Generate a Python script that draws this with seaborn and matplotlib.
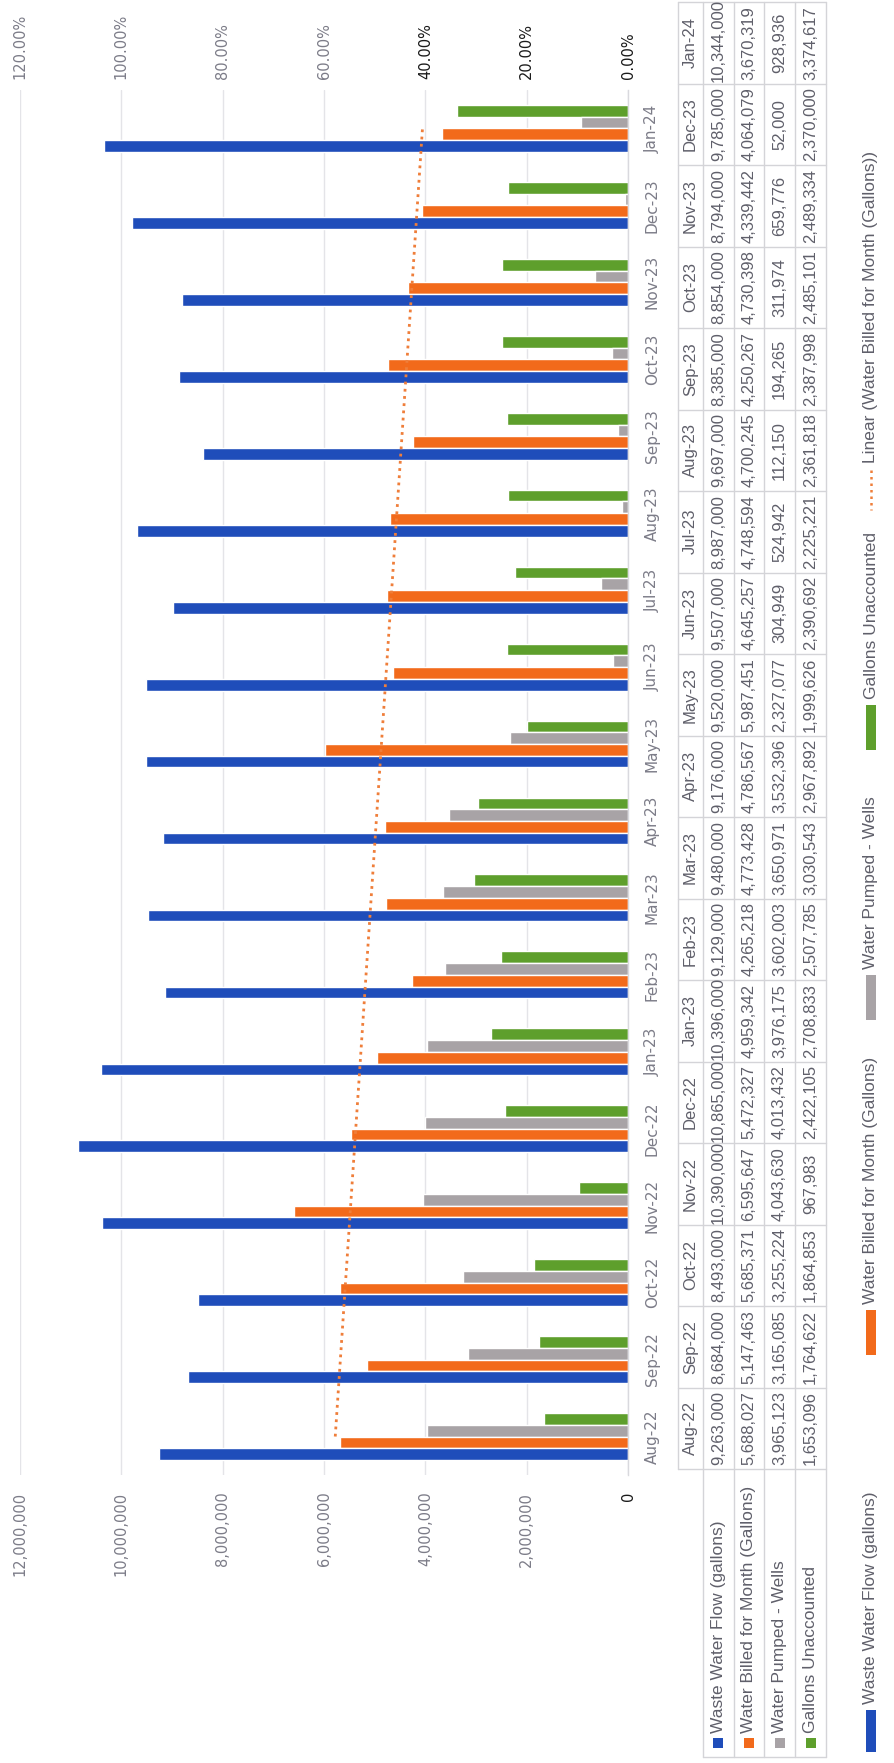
import numpy as np
import pandas as pd
import matplotlib
matplotlib.use("Agg")
import matplotlib.pyplot as plt
import seaborn as sns
from matplotlib.patches import Rectangle
from matplotlib.lines import Line2D
from matplotlib.transforms import Bbox, TransformedBbox

# ---- data -------------------------------------------------------------
months = ["Aug-22", "Sep-22", "Oct-22", "Nov-22", "Dec-22", "Jan-23",
          "Feb-23", "Mar-23", "Apr-23", "May-23", "Jun-23", "Jul-23",
          "Aug-23", "Sep-23", "Oct-23", "Nov-23", "Dec-23", "Jan-24"]

waste_water_flow = [9263000, 8684000, 8493000, 10390000, 10865000, 10396000,
                    9129000, 9480000, 9176000, 9520000, 9507000, 8987000,
                    9697000, 8385000, 8854000, 8794000, 9785000, 10344000]
water_billed = [5688027, 5147463, 5685371, 6595647, 5472327, 4959342,
                4265218, 4773428, 4786567, 5987451, 4645257, 4748594,
                4700245, 4250267, 4730398, 4339442, 4064079, 3670319]
water_pumped_wells = [3965123, 3165085, 3255224, 4043630, 4013432, 3976175,
                      3602003, 3650971, 3532396, 2327077, 304949, 524942,
                      112150, 194265, 311974, 659776, 52000, 928936]
gallons_unaccounted = [1653096, 1764622, 1864853, 967983, 2422105, 2708833,
                       2507785, 3030543, 2967892, 1999626, 2390692, 2225221,
                       2361818, 2387998, 2485101, 2489334, 2370000, 3374617]

series_names = ["Waste Water Flow (gallons)", "Water Billed for Month (Gallons)",
                "Water Pumped - Wells", "Gallons Unaccounted"]
series_values = [waste_water_flow, water_billed, water_pumped_wells, gallons_unaccounted]
series_colors = ["#1F4DBA", "#F26A1B", "#A8A3A6", "#5E9F2C"]
trend_name = "Linear (Water Billed for Month (Gallons))"

value_ticks = [0, 2000000, 4000000, 6000000, 8000000, 10000000, 12000000]
percent_ticks = [0.0, 0.2, 0.4, 0.6, 0.8, 1.0, 1.2]

# ---- page geometry (pixels) -------------------------------------------
W, H = 894, 1763
sns.set_theme(style="white")
plt.rcParams["font.family"] = ["DejaVu Sans"]

fig = plt.figure(figsize=(W / 100, H / 100), dpi=100)
fig.patch.set_facecolor("white")


def box(x0, y0, x1, y1):
    return [x0 / W, 1 - y1 / H, (x1 - x0) / W, (y1 - y0) / H]


TEXT_GRAY = "#5F5F6A"
TICK_GRAY = "#7C7C88"
TREND_ORANGE = "#EF7E3A"

# ---- bars ---------------------------------------------------------------
ax = fig.add_axes(box(20, 90, 628, 1475))
df = pd.DataFrame({
    "Month": np.tile(months, len(series_names)),
    "Series": np.repeat(series_names, len(months)),
    "Gallons": np.concatenate([np.asarray(v, dtype=float) for v in series_values]),
})
order = months[::-1]            # newest month at the top
hue_order = series_names[::-1]  # flow bar sits lowest in each group
sns.barplot(data=df, y="Month", x="Gallons", hue="Series", order=order,
            hue_order=hue_order, palette=dict(zip(series_names, series_colors)),
            orient="h", width=0.61, saturation=1, errorbar=None,
            legend=False, ax=ax)

# linear trend of billed water
idx = np.arange(1, len(months) + 1)
coef = np.polyfit(idx, water_billed, 1)
trend = np.polyval(coef, idx)
ypos = [order.index(m) for m in months]
ax.plot(trend, ypos, color=TREND_ORANGE, lw=2.0, ls=(0, (1, 1.6)), zorder=6)

ax.set_xlim(12000000, 0)
ax.set_ylim(len(months) - 0.5, -0.5)
ax.set_xlabel("")
ax.set_ylabel("")
ax.set_xticks(value_ticks)
ax.set_xticklabels([f"{v:,.0f}" for v in value_ticks], rotation=90)
ax.tick_params(axis="x", length=0, pad=12, labelsize=10.5, labelcolor=TICK_GRAY)
for lab in ax.get_xticklabels():
    if lab.get_text() == "0":
        lab.set_color("#1A1A1A")
ax.grid(axis="x", color="#E4E4E8", lw=1.0)
ax.grid(axis="y", visible=False)
ax.set_axisbelow(True)
for side in ["top", "bottom", "left"]:
    ax.spines[side].set_visible(False)
ax.spines["right"].set_color("#D9D9DE")
ax.spines["right"].set_linewidth(1.0)

ax.yaxis.tick_right()
ax.set_yticks(range(len(order)))
ax.set_yticklabels(order, rotation=90, va="center")
ax.tick_params(axis="y", length=0, pad=12, labelsize=11, labelcolor=TICK_GRAY)

# secondary percentage scale
ax2 = ax.twiny()
ax2.set_xlim(1.2, 0)
ax2.set_xticks(percent_ticks)
ax2.set_xticklabels([f"{p * 100:.2f}%" for p in percent_ticks], rotation=90)
ax2.tick_params(axis="x", length=0, pad=8, labelsize=10.5, labelcolor=TICK_GRAY)
for lab, p in zip(ax2.get_xticklabels(), percent_ticks):
    if p <= 0.4 + 1e-9:
        lab.set_color("#1A1A1A")
ax2.grid(False)
for s in ax2.spines.values():
    s.set_visible(False)

# ---- data table and legend (pixel overlay) -------------------------------
ov = fig.add_axes([0, 0, 1, 1], facecolor="none")
ov.set_xlim(0, W)
ov.set_ylim(H, 0)
ov.axis("off")
renderer = fig.canvas.get_renderer()

line_c = "#D4D4D8"
hdr_x0, hdr_x1 = 678, 703
row_edges = [703, 733.5, 764, 795, 826]
col_top, col_w = 2, 81.5
n = len(months)
tab_bottom = 1757
hdr_top = col_top + n * col_w
TABLE_FONT = dict(family="Liberation Sans", color=TEXT_GRAY, fontsize=12)

# grid lines
ov.plot([hdr_x0, hdr_x0], [col_top, hdr_top], color=line_c, lw=1)
for x in row_edges:
    ov.plot([x, x], [col_top, tab_bottom], color=line_c, lw=1)
for k in range(n + 1):
    y = col_top + k * col_w
    ov.plot([hdr_x0, row_edges[-1]], [y, y], color=line_c, lw=1)
ov.plot([row_edges[0], row_edges[-1]], [tab_bottom, tab_bottom], color=line_c, lw=1)


def cell_text(xc, y0, y1, x0, x1, s):
    """Centered rotated cell text; long entries start at the cell edge and get cut."""
    t = ov.text(xc, (y0 + y1) / 2, s, rotation=90, ha="center", va="center",
                **TABLE_FONT)
    ext = t.get_window_extent(renderer)
    if ext.height > (y1 - y0) - 3:
        t.set_y(y1 - 1)
        t.set_va("bottom")
    t.set_clip_box(TransformedBbox(Bbox.from_extents(x0, y0, x1, y1), ov.transData))
    t.set_clip_on(True)
    return t


for i, m in enumerate(months):
    j = n - 1 - i
    y0 = col_top + j * col_w
    y1 = y0 + col_w
    cell_text((hdr_x0 + hdr_x1) / 2, y0, y1, hdr_x0, hdr_x1, m)
    for r, vals in enumerate(series_values):
        xa, xb = row_edges[r], row_edges[r + 1]
        cell_text((xa + xb) / 2, y0, y1, xa, xb, f"{vals[i]:,}")

for r, (name, col) in enumerate(zip(series_names, series_colors)):
    xc = (row_edges[r] + row_edges[r + 1]) / 2
    ov.add_patch(Rectangle((xc - 5, 1738), 10, 10, color=col, lw=0))
    ov.text(xc, 1733, name, rotation=90, ha="center", va="bottom",
            family="Liberation Sans", color=TEXT_GRAY, fontsize=12.5)

# legend along the right edge
leg_x = 871
leg_entries = [(1710, 1752), (1310, 1355), (975, 1020), (705, 750)]
LEG_FONT = dict(family="Liberation Sans", color=TEXT_GRAY, fontsize=12.5)
for (k0, k1), name, col in zip(leg_entries, series_names, series_colors):
    ov.add_patch(Rectangle((leg_x - 5, k0), 10, k1 - k0, color=col, lw=0))
    ov.text(leg_x, k0 - 6, name, rotation=90, ha="center", va="bottom", **LEG_FONT)
ov.add_line(Line2D([leg_x, leg_x], [470, 510], color=TREND_ORANGE, lw=1.8,
                   ls=(0, (1, 1.6))))
ov.text(leg_x, 463, trend_name, rotation=90, ha="center", va="bottom", **LEG_FONT)

fig.savefig("out.png", dpi=100, facecolor="white")
